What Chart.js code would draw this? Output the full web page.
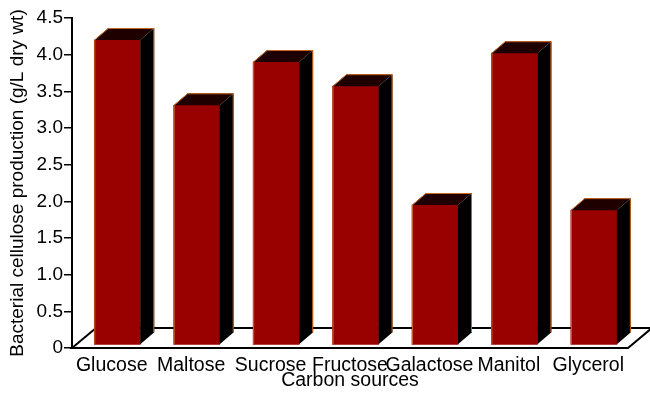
<!DOCTYPE html>
<html>
<head>
<meta charset="utf-8">
<script src="https://cdn.jsdelivr.net/npm/chart.js@4"></script>
<style>
  html, body { margin: 0; padding: 0; background: #fff; }
  canvas { display: block; }
</style>
</head>
<body>
<canvas id="chart" width="650" height="394"></canvas>
<script>
  const SOURCES = ['Glucose', 'Maltose', 'Sucrose', 'Fructose', 'Galactose', 'Manitol', 'Glycerol'];
  const PRODUCTION = [4.20, 3.31, 3.90, 3.57, 1.95, 4.02, 1.88];
  const Y_TICKS = ['0', '0.5', '1.0', '1.5', '2.0', '2.5', '3.0', '3.5', '4.0', '4.5'];

  const FONT = 'Arial, "Liberation Sans", Helvetica, sans-serif';
  const FRONT = '#990000';
  const TOP = '#1e0000';
  const SIDE = '#000000';
  const EDGE = '#c8641e';

  // bar depth (px) and floor depth (px)
  const BAR_DX = 14, BAR_DY = 12;
  const FLOOR_DX = 24, FLOOR_DY = 20;
  // bars sit a little behind the front of the floor, so they shift right
  const BAR_SHIFT = 0.07;

  /** Floor parallelogram under the bars */
  const floorPlugin = {
    id: 'floor3d',
    beforeDatasetsDraw(chart) {
      const { ctx, chartArea } = chart;
      const y0 = chart.scales.y.getPixelForValue(0);
      const l = chartArea.left, r = chartArea.right;
      ctx.save();
      ctx.beginPath();
      ctx.moveTo(l, y0);
      ctx.lineTo(r, y0);
      ctx.lineTo(r + FLOOR_DX, y0 - FLOOR_DY);
      ctx.lineTo(l + FLOOR_DX, y0 - FLOOR_DY);
      ctx.closePath();
      ctx.fillStyle = '#fff';
      ctx.fill();
      ctx.lineWidth = 2;
      ctx.strokeStyle = '#000';
      ctx.lineJoin = 'miter';
      ctx.stroke();
      ctx.restore();
    }
  };

  /** Top and side faces of each bar */
  const barsPlugin = {
    id: 'bars3d',
    afterDatasetsDraw(chart) {
      const { ctx } = chart;
      const meta = chart.getDatasetMeta(0);
      ctx.save();
      meta.data.forEach(bar => {
        const { x, y, base, width } = bar.getProps(['x', 'y', 'base', 'width'], true);
        const l = x - width / 2, r = x + width / 2;

        ctx.beginPath();
        ctx.moveTo(l, y);
        ctx.lineTo(l + BAR_DX, y - BAR_DY);
        ctx.lineTo(r + BAR_DX, y - BAR_DY);
        ctx.lineTo(r, y);
        ctx.closePath();
        ctx.fillStyle = TOP;
        ctx.fill();

        ctx.beginPath();
        ctx.moveTo(r, y);
        ctx.lineTo(r + BAR_DX, y - BAR_DY);
        ctx.lineTo(r + BAR_DX, base - BAR_DY);
        ctx.lineTo(r, base);
        ctx.closePath();
        ctx.fillStyle = SIDE;
        ctx.fill();

        ctx.beginPath();
        ctx.moveTo(l + 0.5, base);
        ctx.lineTo(l + 0.5, y);
        ctx.lineTo(l + BAR_DX, y - BAR_DY + 0.5);
        ctx.lineTo(r + BAR_DX - 0.5, y - BAR_DY + 0.5);
        ctx.lineTo(r + BAR_DX - 0.5, base - BAR_DY);
        ctx.lineWidth = 1;
        ctx.strokeStyle = EDGE;
        ctx.stroke();
      });
      ctx.restore();
    }
  };

  new Chart(document.getElementById('chart'), {
    type: 'bar',
    data: {
      datasets: [{
        data: PRODUCTION.map((v, i) => ({ x: i, y: v })),
        xAxisID: 'xb',
        backgroundColor: FRONT,
        borderWidth: 0,
        barThickness: 46,
        base: 0.05
      }]
    },
    plugins: [floorPlugin, barsPlugin],
    options: {
      responsive: false,
      animation: false,
      devicePixelRatio: 1,
      layout: { padding: { top: 18, right: 22, left: 0, bottom: 0 } },
      plugins: {
        legend: { display: false },
        tooltip: { enabled: false }
      },
      scales: {
        x: {
          type: 'category',
          labels: SOURCES,
          offset: true,
          grid: { display: false, drawTicks: false },
          border: { display: false },
          ticks: {
            autoSkip: false,
            maxRotation: 0,
            minRotation: 0,
            padding: 6,
            color: '#000',
            font: { family: FONT, size: 19.5 }
          },
          title: {
            display: true,
            text: 'Carbon sources',
            color: '#000',
            font: { family: FONT, size: 19.5 },
            padding: { top: 0, bottom: 2 }
          },
          afterFit: scale => { scale.height = 46; }
        },
        xb: {
          type: 'linear',
          display: false,
          offset: false,
          min: -0.5 - BAR_SHIFT,
          max: SOURCES.length - 0.5 - BAR_SHIFT
        },
        y: {
          min: 0,
          max: 4.5,
          border: { display: true, color: '#000', width: 2 },
          grid: { drawOnChartArea: false, tickLength: 8, color: '#000', lineWidth: 1.5 },
          ticks: {
            stepSize: 0.5,
            padding: 1,
            color: '#000',
            font: { family: FONT, size: 19 },
            callback: (v, i) => Y_TICKS[i]
          },
          title: {
            display: true,
            text: 'Bacterial cellulose production (g/L dry wt)',
            color: '#000',
            font: { family: FONT, size: 19 },
            padding: { top: 6, bottom: 0 }
          },
          afterFit: scale => { scale.width = 72; }
        }
      }
    }
  });
</script>
</body>
</html>
